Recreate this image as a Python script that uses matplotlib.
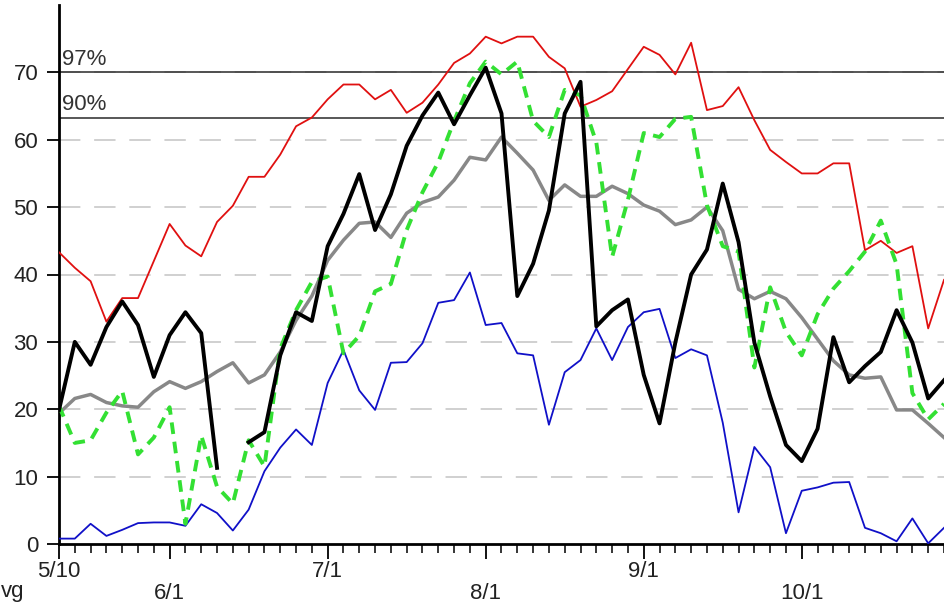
import numpy as np
import matplotlib
matplotlib.use("Agg")
import matplotlib.pyplot as plt

plt.rcParams["font.family"] = ["Liberation Sans", "DejaVu Sans"]

# one value per ~3-day period, starting 5/10
max_vals = [43.3, 41.0, 39.0, 33.0, 36.5, 36.5, 42.0, 47.5, 44.3, 42.7,
            47.8, 50.2, 54.5, 54.5, 57.8, 62.0, 63.3, 66.0, 68.2, 68.2,
            66.0, 67.4, 64.0, 65.5, 68.2, 71.4, 72.8, 75.3, 74.3, 75.3,
            75.3, 72.3, 70.6, 64.9, 65.9, 67.2, 70.5, 73.8, 72.6, 69.7,
            74.4, 64.4, 65.0, 67.8, 62.9, 58.5, 56.7, 55.0, 55.0, 56.5,
            56.5, 43.6, 45.0, 43.2, 44.2, 32.0, 39.2]
min_vals = [0.8, 0.8, 3.0, 1.2, 2.1, 3.1, 3.2, 3.2, 2.7, 5.9,
            4.6, 2.0, 5.1, 10.8, 14.3, 17.0, 14.7, 23.9, 28.8, 22.8,
            19.9, 26.9, 27.0, 29.8, 35.8, 36.2, 40.3, 32.5, 32.8, 28.3,
            28.0, 17.7, 25.5, 27.3, 32.0, 27.3, 32.2, 34.4, 34.9, 27.6,
            28.9, 28.0, 18.0, 4.7, 14.4, 11.4, 1.6, 7.9, 8.4, 9.1,
            9.2, 2.4, 1.6, 0.4, 3.8, 0.1, 2.4]
avg_vals = [19.4, 21.6, 22.2, 21.0, 20.5, 20.3, 22.6, 24.1, 23.1, 24.1,
            25.6, 26.9, 23.9, 25.1, 28.5, 33.2, 36.8, 42.1, 45.1, 47.6,
            47.8, 45.5, 49.1, 50.7, 51.5, 54.0, 57.4, 57.0, 60.4, 58.0,
            55.5, 51.0, 53.3, 51.6, 51.6, 53.1, 52.0, 50.3, 49.4, 47.4,
            48.1, 50.0, 46.5, 37.8, 36.4, 37.5, 36.4, 33.6, 30.4, 27.2,
            25.1, 24.6, 24.8, 19.9, 19.9, 17.9, 15.8]
this_year = [19.9, 30.0, 26.6, 32.2, 36.0, 32.5, 24.8, 31.0, 34.4, 31.3,
             11.3, np.nan, 15.1, 16.6, 28.0, 34.4, 33.1, 44.2, 49.0, 54.9,
             46.6, 51.9, 59.1, 63.6, 67.0, 62.3, 66.6, 70.7, 63.9, 36.8,
             41.6, 49.5, 63.9, 68.6, 32.3, 34.7, 36.3, 25.1, 17.9, 29.9,
             40.0, 43.7, 53.5, 44.8, 29.9, 21.9, 14.7, 12.3, 17.1, 30.7,
             24.0, 26.4, 28.5, 34.7, 29.9, 21.6, 24.3]
last_year = [20.5, 15.0, 15.4, 19.5, 22.7, 13.3, 15.8, 20.3, 3.0, 16.1,
             8.5, 6.0, 15.4, 11.5, 29.0, 34.7, 38.9, 39.7, 28.3, 30.9,
             37.5, 38.6, 46.6, 52.2, 56.7, 62.8, 68.4, 71.6, 69.7, 71.6,
             62.8, 60.4, 67.4, 66.6, 59.6, 42.6, 51.1, 61.0, 60.4, 63.1,
             63.4, 50.3, 44.2, 43.4, 26.2, 38.1, 31.5, 28.0, 34.1, 37.9,
             40.5, 43.4, 48.0, 41.5, 22.4, 18.5, 20.8]

month_labels = ["5/10", "6/1", "7/1", "8/1", "9/1", "10/1"]
month_pos = [0, 7, 17, 27, 37, 47]
level_vals = [70.0, 63.3]
level_labels = ["97%", "90%"]

x = np.arange(len(max_vals))

fig = plt.figure(figsize=(9.44, 6.07), dpi=100)
ax = fig.add_axes([59 / 944, 63 / 607, 885 / 944, 539 / 607])

ax.set_xlim(0, 56)
ax.set_ylim(0, 80)

# dashed grid
for v in range(10, 80, 10):
    ax.axhline(v, color="#c4c4c4", lw=1.1, ls=(0, (14, 9)), zorder=0)

for v, lab in zip(level_vals, level_labels):
    ax.axhline(v, color="#2a2a2a", lw=1.1, zorder=1)
    ax.text(0.2, v + 0.3, lab, fontsize=16, color="#333333",
            ha="left", va="bottom", zorder=6)

ax.plot(x, avg_vals, color="#888888", lw=2.5, zorder=2)
ax.plot(x, max_vals, color="#e01010", lw=1.3, zorder=3)
ax.plot(x, min_vals, color="#1010c8", lw=1.3, zorder=3)
ax.plot(x, last_year, color="#33e033", lw=2.8, ls=(0, (3, 2)), zorder=4)
ax.plot(x, this_year, color="black", lw=2.8, zorder=5)

for s in ["top", "right"]:
    ax.spines[s].set_visible(False)
for s in ["left", "bottom"]:
    ax.spines[s].set_linewidth(2.0)
    ax.spines[s].set_color("black")

ax.set_yticks(range(0, 80, 10))
ax.tick_params(axis="y", length=9, width=1.3, pad=6, labelsize=16,
               labelcolor="#222222")

ax.set_xticks(month_pos)
ax.set_xticklabels([])
ax.set_xticks(x, minor=True)
ax.tick_params(axis="x", which="major", length=11, width=1.3)
ax.tick_params(axis="x", which="minor", length=6.5, width=1.1)

trans = ax.get_xaxis_transform()
for i, (p, lab) in enumerate(zip(month_pos, month_labels)):
    yoff = -0.051 if i % 2 == 0 else -0.092
    ax.text(p, yoff, lab, transform=trans, ha="center", va="center",
            fontsize=16, color="#222222", clip_on=False)

# legend stub visible at the lower left edge of the reference
fig.text(1 / 944, 16 / 607, "vg", ha="left", va="center",
         fontsize=16, color="#222222")

fig.savefig("out.png", dpi=100)
